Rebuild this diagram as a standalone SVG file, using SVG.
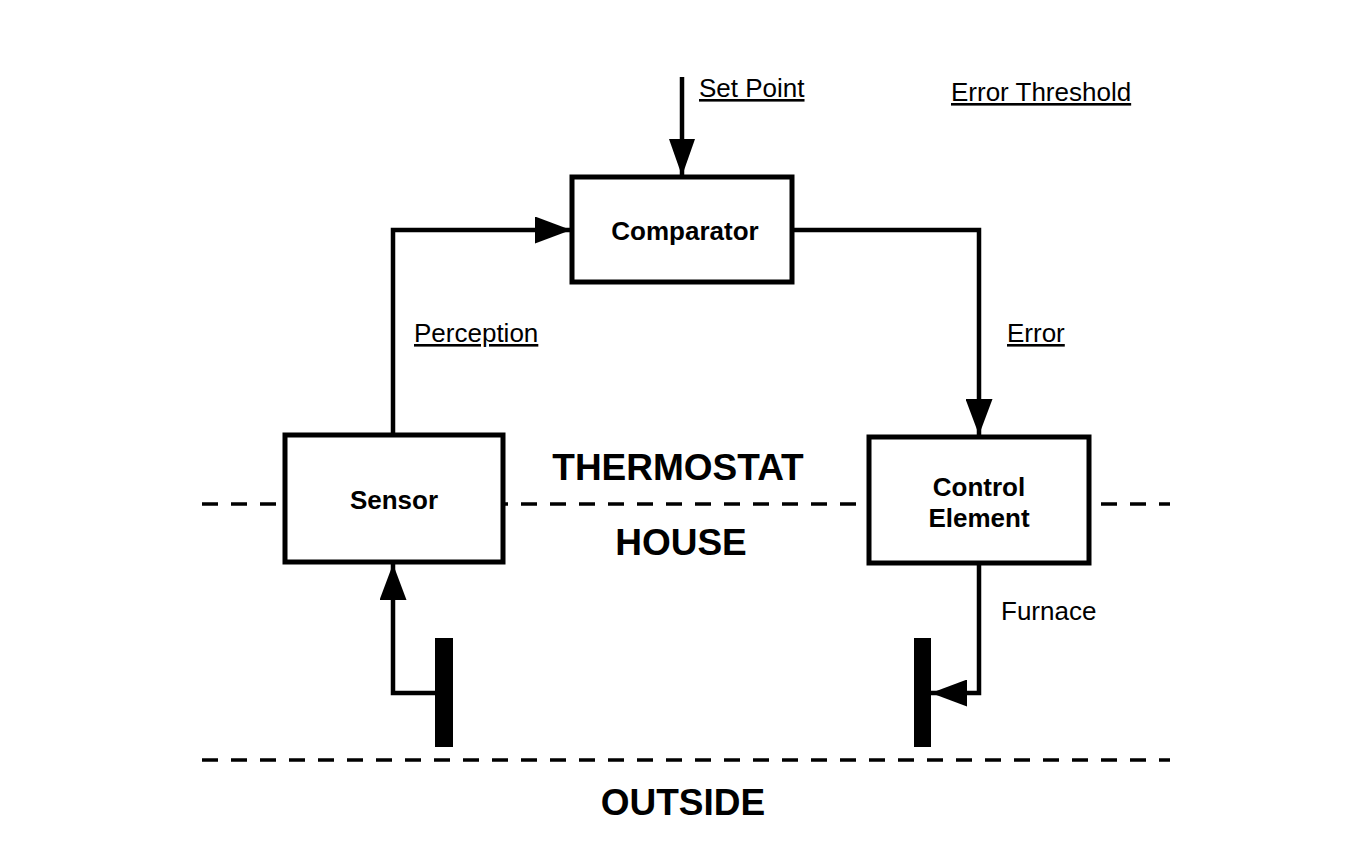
<svg xmlns="http://www.w3.org/2000/svg" width="1370" height="852" viewBox="0 0 1370 852">
<style>
.box{fill:#fff;stroke:#000;stroke-width:5}
.wire{fill:none;stroke:#000;stroke-width:4.5;stroke-linejoin:miter}
.dash{fill:none;stroke:#000;stroke-width:3.5;stroke-dasharray:16 13}
.bar{fill:#000}
.lbl{font-family:"Liberation Sans",Arial,sans-serif;font-size:26px;fill:#000}
.b{font-weight:bold}
.big{font-family:"Liberation Sans",Arial,sans-serif;font-size:37px;font-weight:bold;fill:#000}
.u{text-decoration:underline}
</style>
<defs>
<marker id="ah" markerUnits="userSpaceOnUse" viewBox="0 0 36 27" refX="36" refY="13.5" markerWidth="36" markerHeight="27" orient="auto">
<path d="M0,0 L36,13.5 L0,27 Z" fill="#000"/>
</marker>
</defs>
<rect width="1370" height="852" fill="#fff"/>
<g id="boundaries">
<line class="dash" x1="202" y1="504" x2="1170" y2="504"/>
<line class="dash" x1="202" y1="760" x2="1170" y2="760"/>
</g>
<g id="connectors">
<line class="wire" x1="682" y1="77" x2="682" y2="176"/>
<polyline class="wire" points="393,434 393,230 571,230" marker-end="url(#ah)"/>
<polyline class="wire" points="793,230 979,230 979,435" marker-end="url(#ah)"/>
<polyline class="wire" points="444,693 393,693 393,564" marker-end="url(#ah)"/>
<polyline class="wire" points="979,565 979,693 931,693" marker-end="url(#ah)"/>
</g>
<g id="setpoint-arrow">
<polygon points="669,139 695,139 682,176" fill="#000"/>
</g>
<g id="comparator">
<rect class="box" x="572" y="177" width="220" height="105"/>
<text class="lbl b" x="685" y="240" text-anchor="middle">Comparator</text>
</g>
<g id="sensor">
<rect class="box" x="285" y="435" width="218" height="127"/>
<text class="lbl b" x="394" y="509" text-anchor="middle">Sensor</text>
</g>
<g id="control-element">
<rect class="box" x="869" y="437" width="220" height="126"/>
<text class="lbl b" x="979" y="496" text-anchor="middle">Control</text>
<text class="lbl b" x="979" y="527" text-anchor="middle">Element</text>
</g>
<g id="house-bar">
<rect class="bar" x="435" y="638" width="18" height="109"/>
</g>
<g id="furnace-bar">
<rect class="bar" x="914" y="638" width="17" height="109"/>
</g>
<g id="labels">
<text class="lbl u" x="699" y="97">Set Point</text>
<text class="lbl u" x="951" y="101">Error Threshold</text>
<text class="lbl u" x="414" y="342">Perception</text>
<text class="lbl u" x="1007" y="342">Error</text>
<text class="lbl" x="1001" y="620">Furnace</text>
<text class="big" x="678" y="480" text-anchor="middle">THERMOSTAT</text>
<text class="big" x="681" y="555" text-anchor="middle">HOUSE</text>
<text class="big" x="683" y="815" text-anchor="middle">OUTSIDE</text>
</g>
</svg>
